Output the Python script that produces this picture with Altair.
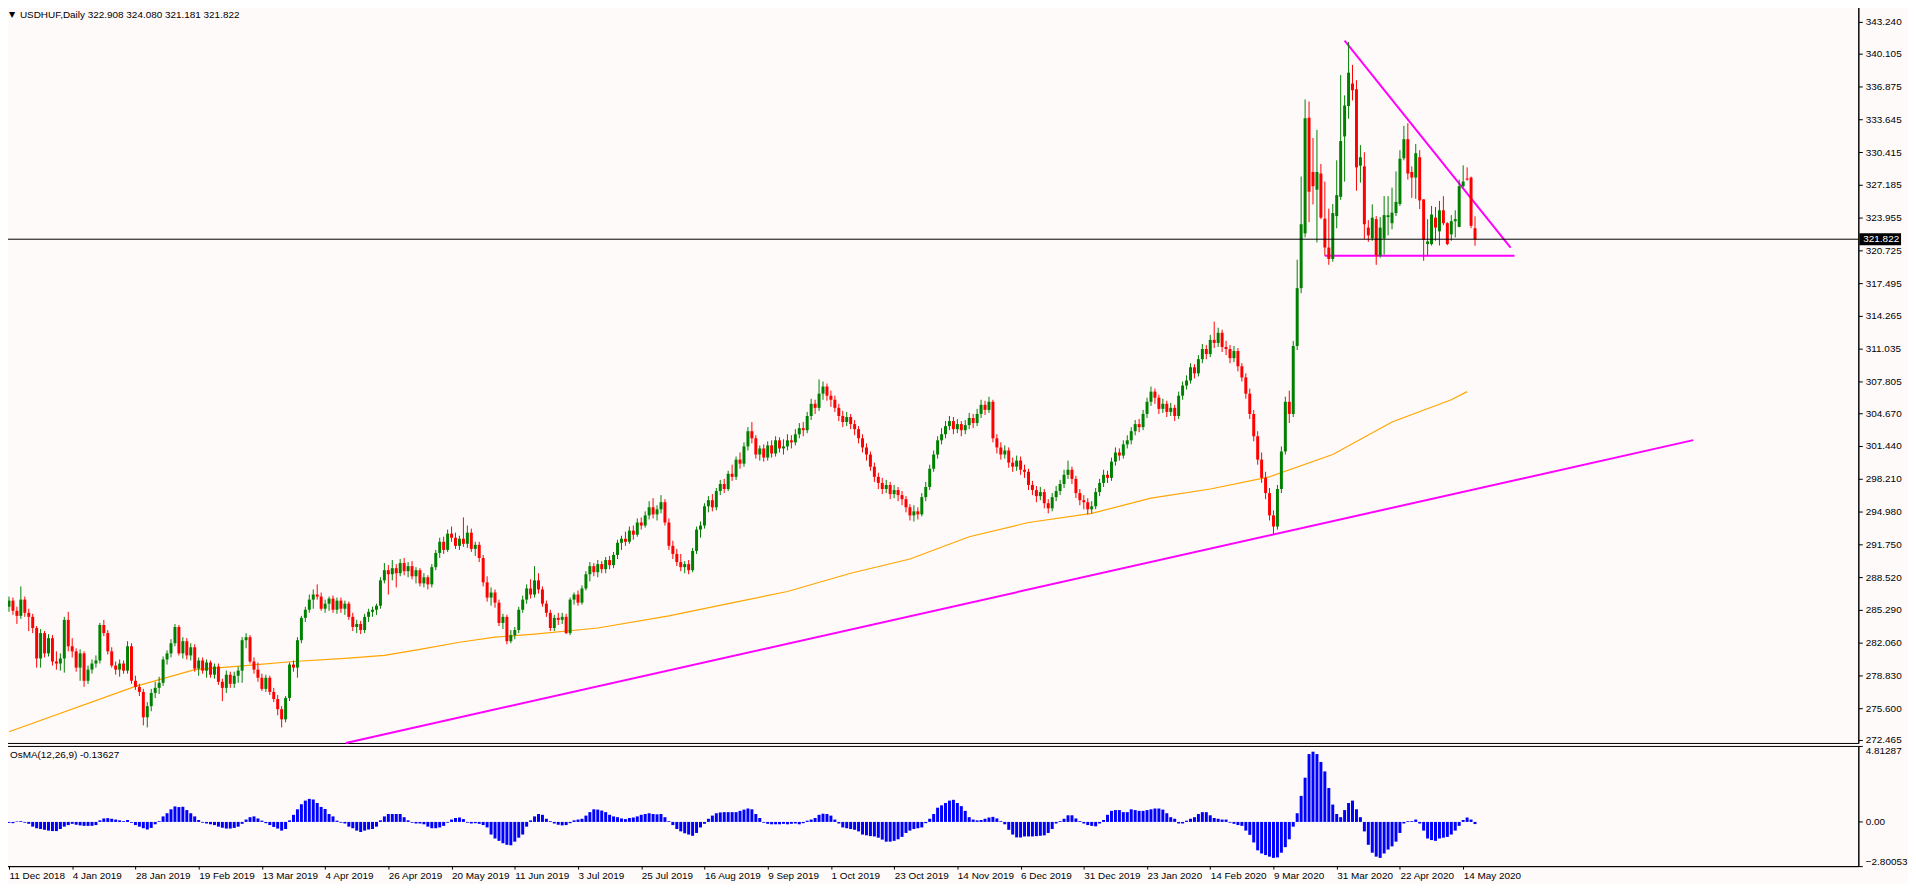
import altair as alt
import pandas as pd

FONT = "Liberation Sans"
title_text = "USDHUF,Daily  322.908 324.080 321.181 321.822"
osma_text = "OsMA(12,26,9) -0.13627"
last_price = 321.822

# ---- daily candles, bar 0 = 11 Dec 2018 ----
opens = [
    285.6, 286.2, 285.2, 284.7, 286.3, 285.0, 284.6, 283.5, 280.5, 283.0,
    281.0, 282.5, 280.2, 280.0, 280.5, 284.3, 281.7, 281.2, 279.6, 281.0,
    278.3, 279.4, 280.0, 280.3, 283.8, 283.0, 281.2, 279.8, 279.4, 280.0,
    279.3, 281.7, 278.3, 277.7, 277.2, 274.7, 275.8, 277.1, 277.6, 278.1,
    280.4, 281.0, 282.0, 283.6, 281.0, 282.2, 280.8, 281.6, 279.5, 280.3,
    279.3, 280.1, 278.9, 279.7, 278.2, 277.6, 278.9, 278.0, 278.8, 279.3,
    282.3, 282.6, 280.2, 279.4, 278.6, 277.5, 278.6, 277.2, 276.5, 275.5,
    274.5, 276.6, 279.9, 279.6, 282.3, 284.5, 285.3, 286.3, 286.8, 286.6,
    285.4, 285.9, 286.4, 285.3, 286.2, 285.4, 285.9, 284.6, 283.6, 283.9,
    283.3, 284.6, 285.1, 285.3, 285.7, 288.2, 289.2, 288.8, 289.4, 288.9,
    289.9, 289.1, 289.6, 288.6, 289.2, 287.9, 288.5, 287.8, 289.5, 290.9,
    292.0, 291.2, 292.8, 292.4, 291.6, 292.3, 291.8, 292.9, 291.3, 291.7,
    290.4, 288.0, 286.5, 287.0, 286.0, 284.0, 284.6, 282.2, 282.8, 283.3,
    285.3, 286.3, 287.4, 286.8, 288.2, 287.3, 285.9, 285.0, 283.5, 284.5,
    284.3, 284.6, 283.0, 286.3, 286.8, 286.0, 287.4, 288.8, 289.6, 289.0,
    289.8, 289.3, 290.2, 289.7, 290.7, 291.9, 292.3, 292.0, 293.1, 292.7,
    293.9, 293.6, 294.6, 295.4, 294.7, 295.2, 295.9, 293.9, 291.6, 290.8,
    290.0, 289.5, 289.8, 289.2, 291.1, 293.2, 293.6, 295.5, 296.1, 295.4,
    297.0, 297.7, 297.2, 298.7, 298.4, 300.1, 299.7, 301.4, 302.9, 302.2,
    300.6, 301.2, 300.3, 301.5, 300.7, 302.0, 301.2, 301.4, 302.0, 301.8,
    302.6, 303.2, 303.0, 304.4, 305.6, 305.2, 306.6, 307.3, 306.4, 306.0,
    305.2, 304.4, 303.8, 304.3, 303.6, 303.1, 302.2, 301.3, 300.6, 299.4,
    298.4, 297.8, 297.2, 297.6, 296.7, 297.1, 296.6, 296.2, 295.4, 294.6,
    295.0, 294.7, 296.4, 297.4, 299.2, 300.6, 302.0, 302.6, 303.4, 303.9,
    303.1, 303.6, 303.0, 303.5, 304.2, 303.7, 304.6, 305.5, 305.0, 305.8,
    302.2, 301.3, 300.6, 301.0, 299.8, 299.4, 300.0, 299.1, 298.9, 297.6,
    297.1, 296.5, 296.9, 295.8, 295.3, 296.4, 297.0, 297.7, 298.6, 299.1,
    298.2, 296.8, 296.1, 295.9, 295.2, 295.5, 296.9, 297.8, 298.6, 298.3,
    299.9, 300.8, 300.5, 301.6, 302.0, 302.9, 303.6, 303.3, 304.6, 305.8,
    306.8, 306.2, 305.1, 305.6, 304.8, 305.2, 304.4, 306.4, 307.4, 307.9,
    309.2, 308.6, 310.0, 311.0, 310.5, 311.9, 311.6, 312.6, 311.2, 311.0,
    310.1, 310.8, 309.3, 308.2, 306.6, 304.6, 302.4, 300.1, 298.3, 296.8,
    294.6, 293.5, 297.2, 300.9, 305.8, 304.6, 311.3,
    317.0, 322.4, 333.8, 328.45, 326.7, 328.3, 323.85, 321.0, 319.87, 324.1,
    326.0, 331.95, 334.95, 337.17, 336.6, 329.07, 329.0, 322.97, 321.9, 323.8,
    320.2, 321.9, 324.0, 323.4, 324.4, 325.3, 329.8, 331.68, 328.45, 327.9,
    329.9, 325.75, 321.34, 321.34, 323.95, 322.6, 324.67, 323.4, 322.3, 323.6,
    323.04, 327.05, 327.8, 327.9, 322.908]
highs = [
    286.6, 286.5, 285.6, 287.6, 286.6, 285.4, 284.9, 283.7, 283.4, 283.2,
    282.9, 282.8, 281.2, 281.0, 284.6, 285.1, 282.5, 281.5, 281.4, 281.2,
    279.8, 280.4, 280.8, 284.0, 284.3, 283.3, 281.6, 280.2, 280.4, 280.3,
    282.2, 282.0, 278.8, 278.0, 277.5, 276.2, 277.5, 278.2, 278.7, 280.7,
    281.3, 282.4, 283.9, 283.8, 282.6, 282.5, 282.0, 281.9, 280.6, 280.6,
    280.4, 280.3, 280.0, 280.0, 278.5, 279.3, 279.2, 279.2, 279.7, 282.6,
    283.0, 282.8, 280.6, 280.1, 279.0, 278.9, 278.8, 277.6, 276.9, 275.8,
    276.8, 280.1, 280.3, 282.6, 284.7, 285.6, 286.8, 287.3, 287.8, 287.0,
    286.3, 286.6, 286.7, 286.5, 286.5, 286.2, 286.1, 285.0, 284.3, 284.2,
    284.9, 285.4, 285.6, 285.9, 288.5, 289.9, 289.7, 290.2, 289.8, 290.3,
    290.4, 290.0, 290.1, 289.5, 289.4, 288.9, 288.7, 289.8, 291.2, 292.4,
    292.5, 293.2, 293.5, 292.9, 292.6, 294.4, 293.6, 293.3, 292.0, 292.0,
    290.7, 288.6, 287.5, 287.3, 286.3, 284.9, 284.8, 283.3, 283.6, 285.6,
    286.7, 287.8, 288.3, 289.6, 288.9, 287.6, 286.2, 285.3, 284.8, 285.0,
    285.0, 284.9, 286.5, 287.0, 287.2, 287.7, 289.1, 290.0, 289.9, 290.2,
    290.1, 290.5, 290.6, 291.0, 292.2, 292.6, 293.0, 293.5, 293.6, 294.3,
    294.4, 295.0, 296.0, 296.3, 295.6, 296.6, 296.2, 294.3, 292.1, 291.3,
    290.8, 290.1, 290.2, 291.4, 293.5, 294.0, 295.8, 296.5, 296.7, 297.3,
    298.1, 298.2, 299.0, 299.6, 300.4, 300.8, 301.8, 303.3, 303.8, 302.5,
    301.5, 301.6, 301.9, 302.0, 302.4, 302.3, 302.1, 302.6, 302.5, 303.1,
    303.7, 303.8, 304.8, 306.1, 306.0, 308.0, 307.8, 307.6, 306.9, 306.4,
    305.6, 304.9, 304.8, 304.6, 304.0, 303.4, 302.6, 301.7, 300.9, 299.8,
    298.8, 298.3, 298.1, 297.9, 297.6, 297.4, 297.0, 296.5, 295.7, 295.6,
    295.4, 296.8, 297.9, 299.6, 301.0, 302.4, 303.2, 303.9, 304.4, 304.3,
    304.1, 303.9, 304.0, 304.7, 304.6, 305.1, 306.0, 305.9, 306.3, 306.0,
    302.6, 301.8, 301.5, 301.3, 300.3, 300.5, 300.4, 299.6, 299.2, 298.0,
    297.5, 297.4, 297.2, 296.2, 296.8, 297.5, 298.1, 299.1, 300.0, 299.4,
    298.5, 297.2, 296.6, 296.3, 296.0, 297.3, 298.2, 299.1, 299.0, 300.3,
    301.3, 301.2, 302.0, 302.5, 303.3, 304.0, 304.1, 305.0, 306.2, 307.3,
    307.1, 306.5, 306.1, 305.9, 305.7, 305.5, 306.8, 307.8, 308.4, 309.6,
    309.5, 310.4, 311.5, 311.4, 312.4, 313.7, 313.1, 312.9, 311.8, 311.4,
    311.3, 311.1, 309.6, 308.6, 307.1, 305.0, 302.9, 300.8, 298.9, 297.3,
    295.1, 297.6, 301.4, 306.3, 306.9, 311.8, 319.8,
    328.0, 335.6, 335.4, 331.8, 332.6, 329.24, 327.5, 324.83, 325.3, 329.6,
    338.0, 336.0, 341.25, 339.0, 337.5, 331.1, 330.4, 323.7, 325.26, 324.1,
    324.0, 326.07, 326.07, 326.9, 328.5, 330.6, 333.0, 333.25, 329.0, 331.2,
    330.6, 325.75, 323.8, 325.1, 325.0, 325.6, 326.07, 323.5, 324.2, 324.67,
    327.7, 329.1, 328.9, 328.0, 324.080]
lows = [
    285.1, 284.8, 283.9, 284.4, 284.6, 283.2, 283.0, 279.6, 279.6, 280.6,
    280.7, 279.8, 279.4, 279.3, 279.1, 281.2, 280.6, 279.2, 278.3, 277.7,
    278.0, 279.0, 279.6, 280.0, 282.7, 280.9, 279.6, 278.9, 278.7, 279.0,
    279.0, 278.0, 277.4, 276.8, 273.9, 273.7, 275.3, 276.6, 277.0, 277.8,
    279.9, 280.6, 281.7, 280.8, 280.5, 280.4, 280.3, 279.2, 278.8, 279.0,
    278.6, 278.6, 278.5, 277.9, 276.3, 277.1, 277.6, 277.6, 278.1, 278.1,
    281.5, 280.0, 279.0, 278.2, 277.3, 277.2, 276.9, 276.2, 274.9, 273.7,
    274.2, 276.3, 279.2, 278.6, 282.0, 284.1, 285.0, 285.4, 286.3, 285.2,
    285.0, 285.2, 285.0, 284.9, 285.0, 284.8, 284.3, 283.2, 283.0, 282.9,
    283.0, 284.1, 284.6, 284.8, 285.4, 287.9, 286.8, 288.2, 287.5, 288.6,
    288.7, 288.5, 288.3, 287.9, 287.6, 287.5, 287.3, 287.5, 289.2, 290.4,
    290.8, 291.0, 292.0, 291.3, 291.2, 291.5, 291.4, 291.0, 290.6, 290.0,
    287.6, 286.1, 285.7, 285.5, 283.7, 283.4, 281.9, 282.0, 282.4, 283.0,
    285.0, 285.9, 286.4, 286.5, 286.9, 285.6, 284.6, 283.2, 283.2, 283.8,
    283.9, 282.9, 282.8, 285.8, 285.7, 285.8, 287.2, 288.1, 288.6, 288.5,
    288.9, 288.9, 289.3, 289.4, 290.3, 291.2, 291.6, 291.8, 292.2, 292.5,
    293.2, 293.4, 294.2, 294.3, 294.1, 294.8, 293.6, 291.2, 290.3, 289.6,
    289.1, 288.9, 288.8, 289.0, 290.8, 292.4, 293.3, 294.9, 295.0, 295.1,
    296.6, 296.8, 297.0, 298.0, 298.1, 299.2, 299.4, 301.0, 301.7, 300.2,
    300.0, 299.9, 300.0, 300.3, 300.4, 300.8, 300.6, 301.0, 301.2, 301.5,
    302.2, 302.4, 302.7, 304.0, 304.6, 304.9, 306.0, 305.9, 305.3, 304.8,
    303.9, 303.3, 303.4, 303.1, 302.5, 301.7, 300.8, 300.0, 299.0, 297.9,
    297.2, 296.7, 296.8, 296.2, 296.3, 296.0, 295.6, 294.9, 294.1, 294.0,
    294.2, 294.5, 296.0, 297.1, 298.9, 300.2, 301.6, 302.2, 303.0, 302.6,
    302.7, 302.4, 302.6, 303.1, 303.2, 303.4, 304.2, 304.5, 304.7, 301.8,
    300.7, 300.1, 300.2, 299.3, 298.9, 299.0, 298.6, 298.3, 297.1, 296.6,
    295.9, 296.1, 295.3, 294.8, 295.0, 296.0, 296.6, 297.3, 298.2, 297.7,
    296.3, 295.6, 295.2, 294.7, 294.8, 295.2, 296.5, 297.4, 297.8, 298.0,
    299.5, 300.0, 300.2, 301.2, 301.6, 302.5, 302.8, 303.0, 304.2, 305.4,
    305.6, 304.6, 304.7, 304.3, 304.4, 303.9, 304.1, 306.0, 307.0, 307.6,
    308.1, 308.3, 309.6, 310.0, 310.2, 311.1, 311.2, 310.7, 310.4, 309.6,
    309.7, 308.8, 307.8, 306.1, 304.1, 301.9, 299.6, 297.8, 296.2, 294.1,
    292.7, 293.2, 296.8, 300.6, 303.7, 304.3, 310.9,
    316.5, 322.0, 323.5, 325.25, 321.5, 323.8, 320.2, 319.3, 319.6, 322.9,
    325.7, 327.5, 333.7, 335.5, 326.6, 327.4, 321.83, 321.57, 321.67, 319.3,
    320.0, 320.3, 322.2, 322.8, 324.1, 325.1, 329.6, 327.7, 325.9, 325.8,
    324.8, 319.7, 320.2, 321.2, 321.67, 321.2, 323.2, 321.24, 321.67, 322.0,
    323.0, 326.9, 327.6, 322.9, 321.181]
closes = [
    286.2, 285.2, 284.7, 286.3, 285.0, 284.6, 283.5, 280.5, 283.0, 281.0,
    282.5, 280.2, 280.0, 280.5, 284.3, 281.7, 281.2, 279.6, 281.0, 278.3,
    279.4, 280.0, 280.3, 283.8, 283.0, 281.2, 279.8, 279.4, 280.0, 279.3,
    281.7, 278.3, 277.7, 277.2, 274.7, 275.8, 277.1, 277.6, 278.1, 280.4,
    281.0, 282.0, 283.6, 281.0, 282.2, 280.8, 281.6, 279.5, 280.3, 279.3,
    280.1, 278.9, 279.7, 278.2, 277.6, 278.9, 278.0, 278.8, 279.3, 282.3,
    282.6, 280.2, 279.4, 278.6, 277.5, 278.6, 277.2, 276.5, 275.5, 274.5,
    276.6, 279.9, 279.6, 282.3, 284.5, 285.3, 286.3, 286.8, 286.6, 285.4,
    285.9, 286.4, 285.3, 286.2, 285.4, 285.9, 284.6, 283.6, 283.9, 283.3,
    284.6, 285.1, 285.3, 285.7, 288.2, 289.2, 288.8, 289.4, 288.9, 289.9,
    289.1, 289.6, 288.6, 289.2, 287.9, 288.5, 287.8, 289.5, 290.9, 292.0,
    291.2, 292.8, 292.4, 291.6, 292.3, 291.8, 292.9, 291.3, 291.7, 290.4,
    288.0, 286.5, 287.0, 286.0, 284.0, 284.6, 282.2, 282.8, 283.3, 285.3,
    286.3, 287.4, 286.8, 288.2, 287.3, 285.9, 285.0, 283.5, 284.5, 284.3,
    284.6, 283.0, 286.3, 286.8, 286.0, 287.4, 288.8, 289.6, 289.0, 289.8,
    289.3, 290.2, 289.7, 290.7, 291.9, 292.3, 292.0, 293.1, 292.7, 293.9,
    293.6, 294.6, 295.4, 294.7, 295.2, 295.9, 293.9, 291.6, 290.8, 290.0,
    289.5, 289.8, 289.2, 291.1, 293.2, 293.6, 295.5, 296.1, 295.4, 297.0,
    297.7, 297.2, 298.7, 298.4, 300.1, 299.7, 301.4, 302.9, 302.2, 300.6,
    301.2, 300.3, 301.5, 300.7, 302.0, 301.2, 301.4, 302.0, 301.8, 302.6,
    303.2, 303.0, 304.4, 305.6, 305.2, 306.6, 307.3, 306.4, 306.0, 305.2,
    304.4, 303.8, 304.3, 303.6, 303.1, 302.2, 301.3, 300.6, 299.4, 298.4,
    297.8, 297.2, 297.6, 296.7, 297.1, 296.6, 296.2, 295.4, 294.6, 295.0,
    294.7, 296.4, 297.4, 299.2, 300.6, 302.0, 302.6, 303.4, 303.9, 303.1,
    303.6, 303.0, 303.5, 304.2, 303.7, 304.6, 305.5, 305.0, 305.8, 302.2,
    301.3, 300.6, 301.0, 299.8, 299.4, 300.0, 299.1, 298.9, 297.6, 297.1,
    296.5, 296.9, 295.8, 295.3, 296.4, 297.0, 297.7, 298.6, 299.1, 298.2,
    296.8, 296.1, 295.9, 295.2, 295.5, 296.9, 297.8, 298.6, 298.3, 299.9,
    300.8, 300.5, 301.6, 302.0, 302.9, 303.6, 303.3, 304.6, 305.8, 306.8,
    306.2, 305.1, 305.6, 304.8, 305.2, 304.4, 306.4, 307.4, 307.9, 309.2,
    308.6, 310.0, 311.0, 310.5, 311.9, 311.6, 312.6, 311.2, 311.0, 310.1,
    310.8, 309.3, 308.2, 306.6, 304.6, 302.4, 300.1, 298.3, 296.8, 294.6,
    293.5, 297.2, 300.9, 305.8, 304.6, 311.3, 317.0,
    323.3, 333.74, 326.5, 327.05, 328.45, 323.95, 321.0, 319.87, 324.4, 326.17,
    331.5, 335.0, 338.24, 336.5, 328.9, 329.9, 323.3, 322.2, 323.95, 320.2,
    322.97, 324.2, 324.18, 324.44, 325.5, 329.76, 331.68, 328.3, 327.9, 330.3,
    325.65, 321.77, 321.6, 324.25, 322.97, 324.67, 323.4, 321.34, 323.6, 323.8,
    327.05, 327.5, 327.7, 323.14, 321.822]

# ---- OsMA histogram, one value per bar from bar 0 ----
osma = [
    -0.06, -0.08, 0.03, 0.05, -0.05,
    -0.12, -0.3, -0.4, -0.45, -0.5, -0.55, -0.58, -0.58, -0.45, -0.3, -0.2, -0.12, -0.18, -0.22, -0.25, -0.25, -0.25, -0.2,
    0.1, 0.22, 0.24, 0.2, 0.15, 0.1, 0.05, 0.12,
    -0.05, -0.2, -0.3, -0.4, -0.48, -0.38, -0.15,
    0.05, 0.35, 0.55, 0.8, 0.98, 0.94, 0.96, 0.75, 0.55, 0.35, 0.12,
    -0.05, -0.1, -0.15, -0.2, -0.3, -0.37, -0.42, -0.42, -0.38, -0.3, -0.12,
    0.15, 0.3, 0.35, 0.22, 0.08,
    -0.08, -0.2, -0.32, -0.42, -0.55, -0.45,
    0.1, 0.45, 0.8, 1.12, 1.35, 1.46, 1.42, 1.2, 0.95, 0.82, 0.5, 0.35, 0.08,
    -0.05, -0.1, -0.3, -0.4, -0.55, -0.64, -0.55, -0.48, -0.45, -0.3,
    0.1, 0.35, 0.5, 0.5, 0.5, 0.5, 0.3, 0.1,
    -0.05, -0.1, -0.1, -0.15, -0.3, -0.4, -0.4, -0.35, -0.25, -0.05,
    0.15, 0.25, 0.28, 0.18,
    -0.05, -0.1, -0.08, -0.12, -0.2, -0.35, -0.8, -1.05, -1.2, -1.35, -1.45, -1.48, -1.25, -1.0, -0.8, -0.3,
    0.1, 0.35, 0.5, 0.45, 0.2, 0.05,
    -0.1, -0.18, -0.22, -0.2, -0.08,
    0.1, 0.15, 0.2, 0.4, 0.62, 0.8, 0.78, 0.72, 0.62, 0.45, 0.35, 0.3, 0.22, 0.18, 0.25, 0.28, 0.35, 0.45, 0.5, 0.55, 0.5, 0.48, 0.5, 0.3, 0.05,
    -0.2, -0.45, -0.6, -0.72, -0.8, -0.88, -0.7, -0.35, -0.12,
    0.2, 0.4, 0.55, 0.6, 0.62, 0.62, 0.62, 0.62, 0.7, 0.78, 0.85, 0.8, 0.5, 0.25,
    -0.05, -0.12, -0.15, -0.15, -0.15, -0.12, -0.15, -0.12, -0.1, -0.15, -0.08,
    0.08, 0.15, 0.25, 0.45, 0.52, 0.5, 0.4, 0.15,
    -0.1, -0.35, -0.4, -0.45, -0.5, -0.6, -0.8, -0.85, -0.9, -0.92, -1.0, -1.12, -1.25, -1.25, -1.2, -1.1, -0.95, -0.7, -0.55, -0.45, -0.4, -0.35, -0.08,
    0.2, 0.5, 0.9, 1.05, 1.2, 1.35,
    1.4, 1.2, 1.0, 0.7, 0.3, 0.15, 0.1, 0.12, 0.2, 0.28, 0.32, 0.22, 0.05,
    -0.15, -0.5, -0.8, -0.98, -0.98, -0.92, -0.92, -0.92, -0.9, -0.88, -0.85, -0.7, -0.45, -0.1,
    0.05, 0.2, 0.42, 0.42, 0.22, 0.05,
    -0.1, -0.2, -0.25, -0.28, -0.1,
    0.12, 0.45, 0.7, 0.75, 0.75, 0.62, 0.62, 0.8, 0.75, 0.7, 0.7, 0.75, 0.8, 0.85, 0.85, 0.78, 0.55, 0.3, 0.2,
    -0.1, -0.1,
    0.08, 0.2, 0.3, 0.5, 0.62, 0.62, 0.42, 0.25, 0.2, 0.15, 0.15,
    -0.05, -0.12, -0.2, -0.25, -0.55, -0.82, -1.3, -1.8, -2.0, -2.1, -2.2, -2.28, -2.25, -1.95, -1.6, -1.1, -0.3,
    0.55, 1.65, 2.8, 4.3, 4.45, 4.3, 3.8, 3.2, 2.15, 1.1, 0.5, 0.3, 0.75, 1.2, 1.35, 0.8, 0.3,
    -0.6, -1.45, -1.95, -2.2, -2.28, -2.0, -1.75, -1.55, -1.25, -0.7, -0.1,
    0.05, 0.05, 0.15, -0.1,
    -0.55, -1.05, -1.15, -1.2, -1.05, -1.0, -0.95, -0.8, -0.55, -0.25,
    0.12, 0.28, 0.15,
    -0.13627,
]

# ---- moving average (orange), read at selected bars ----
ma_bar = [0, 32, 47, 60, 72, 85, 95, 104, 114, 123, 133, 149, 167, 182, 197, 213,
          228, 243, 258, 274, 289, 304, 319, 335, 350, 365, 369]
ma_val = [273.27, 277.75, 279.4, 279.8, 280.2, 280.5, 280.8, 281.4, 282.1, 282.6,
          282.9, 283.5, 284.7, 285.9, 287.1, 288.9, 290.3, 292.5, 293.9, 294.8,
          296.3, 297.2, 298.4, 300.6, 303.8, 306.0, 306.8]

# ---- drawn trend lines ----
line_grp = ["trend", "trend", "tri", "tri", "flat", "flat"]
line_bar = [85.25, 426.25, 338, 380, 333, 381]
line_val = [272.17, 302.02, 341.4, 321.0, 320.2, 320.2]

price_ticks = [343.240, 340.105, 336.875, 333.645, 330.415, 327.185, 323.955,
               320.725, 317.495, 314.265, 311.035, 307.805, 304.670, 301.440,
               298.210, 294.980, 291.750, 288.520, 285.290, 282.060, 278.830,
               275.600, 272.465]
osma_ticks = [4.81287, 0.0, -2.80053]
date_labels = ["11 Dec 2018", "4 Jan 2019", "28 Jan 2019", "19 Feb 2019", "13 Mar 2019",
               "4 Apr 2019", "26 Apr 2019", "20 May 2019", "11 Jun 2019", "3 Jul 2019",
               "25 Jul 2019", "16 Aug 2019", "9 Sep 2019", "1 Oct 2019", "23 Oct 2019",
               "14 Nov 2019", "6 Dec 2019", "31 Dec 2019", "23 Jan 2020", "14 Feb 2020",
               "9 Mar 2020", "31 Mar 2020", "22 Apr 2020", "14 May 2020"]
date_step = 16

# ---- layout ----
W = 1868
H1 = 741
H2 = 121
XDOM = [-0.25, -0.25 + W / 4.0]
PDOM = [272.17, 344.71]
ODOM = [-2.80053, 4.81287]

cdf = pd.DataFrame({
    "bar": list(range(len(opens))),
    "o": opens, "h": highs, "l": lows, "c": closes,
})
odf = pd.DataFrame({"bar": list(range(len(osma))), "v": osma})
madf = pd.DataFrame({"bar": ma_bar, "v": ma_val})
ldf = pd.DataFrame({"g": line_grp, "bar": line_bar, "v": line_val})
pdf = pd.DataFrame({"p": [last_price], "t": [f"{last_price:.3f}"]})

xs = alt.Scale(domain=XDOM, nice=False, zero=False)
ps = alt.Scale(domain=PDOM, nice=False, zero=False)
os_ = alt.Scale(domain=ODOM, nice=False, zero=False)

price_axis = alt.Axis(orient="right", values=price_ticks, format=".3f", title=None,
                      grid=False, tickSize=4, tickColor="black", domainColor="black",
                      labelColor="black", labelFont=FONT, labelFontSize=10,
                      labelPadding=3, labelFlush=False, labelOverlap=False)
X = alt.X("bar:Q", scale=xs, axis=None)
updown = alt.condition("datum.c >= datum.o", alt.value("#008000"), alt.value("#FF0000"))

wicks = alt.Chart(cdf).mark_rule(strokeWidth=1).encode(
    x=X, y=alt.Y("l:Q", scale=ps, axis=price_axis), y2="h:Q", color=updown)
bodies = alt.Chart(cdf).mark_bar(size=3).encode(
    x=X, y=alt.Y("o:Q", scale=ps, axis=price_axis), y2="c:Q", color=updown)
ma = alt.Chart(madf).mark_line(color="#FFA500", strokeWidth=1.2).encode(
    x=X, y=alt.Y("v:Q", scale=ps, axis=price_axis))
lines = alt.Chart(ldf).mark_line(color="#FF00FF", strokeWidth=2).encode(
    x=X, y=alt.Y("v:Q", scale=ps, axis=price_axis), detail="g:N")
cur = alt.Chart(pdf).mark_rule(color="black", strokeWidth=1).encode(
    y=alt.Y("p:Q", scale=ps, axis=price_axis))
box = alt.Chart(pdf).mark_rule(color="black", strokeWidth=12, strokeCap="butt").encode(
    y=alt.Y("p:Q", scale=ps, axis=price_axis), x=alt.value(W + 1), x2=alt.value(W + 43))
boxtxt = alt.Chart(pdf).mark_text(color="white", align="left", baseline="middle",
                                  font=FONT, fontSize=10).encode(
    y=alt.Y("p:Q", scale=ps, axis=price_axis), x=alt.value(W + 5), text="t:N")
tdf = pd.DataFrame({"t": [title_text], "s": ["\u25bc"]})
tri = alt.Chart(tdf).mark_text(align="center", baseline="middle", font="DejaVu Sans",
                               fontSize=8, color="black").encode(
    x=alt.value(9), y=alt.value(8), text="s:N")
ttl = alt.Chart(tdf).mark_text(align="left", baseline="middle", font=FONT,
                               fontSize=10, color="black").encode(
    x=alt.value(17), y=alt.value(8), text="t:N")

price = alt.layer(ma, lines, wicks, bodies, cur, box, boxtxt, tri, ttl).properties(
    width=W, height=H1)

label_arr = "[" + ",".join("'" + s + "'" for s in date_labels) + "]"
date_axis = alt.Axis(values=[i * date_step for i in range(len(date_labels))],
                     labelExpr=label_arr + "[round(datum.value / " + str(date_step) + ")]",
                     labelAlign="left", labelAngle=0, labelBaseline="top",
                     tickSize=3, tickColor="black", domainColor="black",
                     labelColor="black", labelFont=FONT, labelFontSize=10,
                     labelPadding=1, labelFlush=False, labelOverlap=False,
                     labelBound=False, grid=False, title=None)
os_axis = alt.Axis(orient="right", values=osma_ticks,
                   labelExpr="datum.value == 0 ? '0.00' : format(datum.value, '.5f')",
                   labelFlush=True, tickSize=4, tickColor="black", domainColor="black",
                   labelColor="black", labelFont=FONT, labelFontSize=10,
                   labelPadding=3, labelOverlap=False, grid=False, title=None)

hist = alt.Chart(odf).mark_bar(size=3, color="#0000FF").encode(
    x=alt.X("bar:Q", scale=xs, axis=date_axis),
    y=alt.Y("v:Q", scale=os_, axis=os_axis), y2=alt.datum(0))
odf_t = pd.DataFrame({"t": [osma_text]})
otitle = alt.Chart(odf_t).mark_text(align="left", baseline="middle", font=FONT,
                                    fontSize=10, color="black").encode(
    x=alt.value(7), y=alt.value(9), text="t:N")
osma_panel = alt.layer(hist, otitle).properties(width=W, height=H2)

chart = alt.vconcat(price, osma_panel, spacing=3, bounds="flush").properties(
    background="#FFFAFA",
    padding={"left": -6, "top": -5, "right": 0, "bottom": 0},
).configure_view(stroke="black", strokeWidth=1, fill="#FFFAFA")

chart.save("out.html", embed_options={"renderer": "svg", "actions": False})
